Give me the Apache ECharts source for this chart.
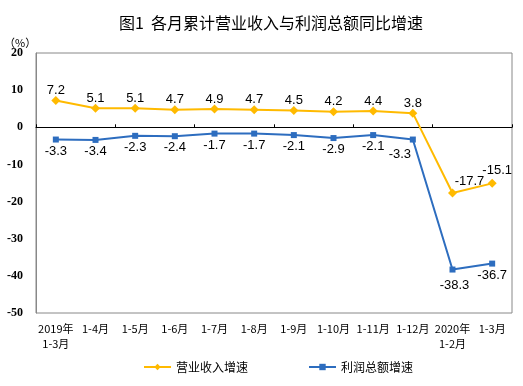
<!DOCTYPE html>
<html><head><meta charset="utf-8">
<script src="https://cdn.jsdelivr.net/npm/echarts@6/dist/echarts.min.js"></script>
<style>html,body{margin:0;padding:0;background:#fff}#c{width:523px;height:386px}</style>
</head><body><div id="c"></div>
<script>
var categories = ['2019年\n1-3月','1-4月','1-5月','1-6月','1-7月','1-8月','1-9月','1-10月','1-11月','1-12月','2020年\n1-2月','1-3月'];
var revenue = [7.2, 5.1, 5.1, 4.7, 4.9, 4.7, 4.5, 4.2, 4.4, 3.8, -17.7, -15.1];
var profit = [-3.3, -3.4, -2.3, -2.4, -1.7, -1.7, -2.1, -2.9, -2.1, -3.3, -38.3, -36.7];
var yTicks = {min: -50, max: 20, interval: 10};

// label nudges (index -> [dx, dy]) to mimic the reference placement
var revOffsets = {10: [17, -2], 11: [5, -3]};
var profOffsets = {9: [-13, 3], 10: [2, 4]};

function withOffsets(values, offsets, baseOffset) {
  return values.map(function (v, i) {
    var o = offsets[i] || [0, 0];
    return {value: v, label: {offset: [o[0] + baseOffset[0], o[1] + baseOffset[1]]}};
  });
}

var chart = echarts.init(document.getElementById('c'));
var cjk = '"Noto Sans CJK SC", sans-serif';
chart.setOption({
  animation: false,
  title: {text: '图1  各月累计营业收入与利润总额同比增速', left: 114, top: 10,
    textStyle: {fontFamily: cjk, fontSize: 16, fontWeight: 'normal', color: '#000'}},
  graphic: [{type: 'text', left: 4, top: 37, style: {text: '（%）', font: '11px ' + cjk, fill: '#000'}}],
  legend: {top: 356, left: 138, itemGap: 60, itemWidth: 27, itemHeight: 8,
    textStyle: {fontFamily: cjk, fontSize: 12, color: '#000'},
    data: ['营业收入增速', '利润总额增速']},
  grid: {left: 36, right: 11, top: 53, bottom: 73, show: true, borderColor: '#888', borderWidth: 1},
  xAxis: [
    {type: 'category', data: categories, axisLine: {onZero: true, lineStyle: {color: '#000', width: 1}},
     axisTick: {show: true, inside: true, length: 3, lineStyle: {color: '#000'}},
     axisLabel: {show: false}},
    {type: 'category', data: categories, position: 'bottom', axisLine: {show: false}, axisTick: {show: false},
     axisLabel: {fontFamily: cjk, fontSize: 11, color: '#000', interval: 0, margin: 8, lineHeight: 15}}
  ],
  yAxis: {type: 'value', min: yTicks.min, max: yTicks.max, interval: yTicks.interval,
    splitLine: {show: false}, axisLine: {show: true, lineStyle: {color: '#888'}},
    axisTick: {show: false},
    axisLabel: {fontFamily: '"Liberation Serif", serif', fontWeight: 'bold', fontSize: 12, color: '#000', margin: 13}},
  series: [
    {name: '营业收入增速', type: 'line', data: withOffsets(revenue, revOffsets, [0, 1]), symbol: 'diamond', symbolSize: 9,
     itemStyle: {color: '#FFBA00'}, lineStyle: {color: '#FFBA00', width: 2},
     label: {show: true, position: 'top', distance: 0, fontFamily: 'Arial, "Liberation Sans"', fontSize: 13, color: '#000'}},
    {name: '利润总额增速', type: 'line', data: withOffsets(profit, profOffsets, [0, 0]), symbol: 'rect', symbolSize: 6,
     itemStyle: {color: '#2D6DBF'}, lineStyle: {color: '#2D6DBF', width: 2},
     label: {show: true, position: 'bottom', distance: 2, fontFamily: 'Arial, "Liberation Sans"', fontSize: 13, color: '#000'}}
  ]
});
</script></body></html>
